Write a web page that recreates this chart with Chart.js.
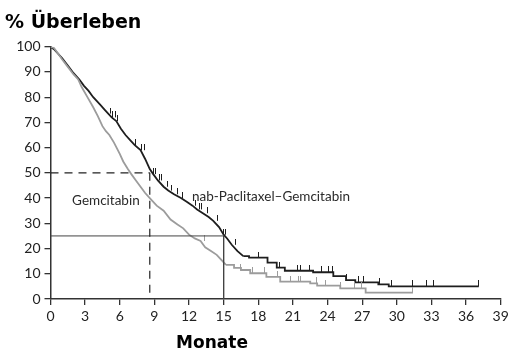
<!DOCTYPE html>
<html>
<head>
<meta charset="utf-8">
<script src="https://cdn.jsdelivr.net/npm/chart.js@4/dist/chart.umd.min.js"></script>
<style>
html,body{margin:0;padding:0;background:#fff;}
#wrap{width:517px;height:358px;position:relative;}
</style>
</head>
<body>
<div id="wrap"><canvas id="c" width="517" height="358"></canvas></div>
<script>
// ---- Data ----
const xTicks = [0,3,6,9,12,15,18,21,24,27,30,33,36,39];
const yTicks = [0,10,20,30,40,50,60,70,80,90,100];

// nab-Paclitaxel–Gemcitabin (months, % survival)
const nabMonths = [0,0.3,0.6,1.0,1.5,2.0,2.5,2.9,3.3,3.7,4.0,4.3,4.7,5.0,5.3,5.7,6.1,6.5,6.9,7.3,7.8,8.2,8.6,8.9,9.3,9.8,10.2,10.7,11.3,11.8,12.3,12.7,13.2,13.7,14.1,14.6,15.0,15.3,15.7,16.2,16.7,17.2,18.5,18.8,19.6,20.3,22.75,24.5,25.6,26.4,28.4,29.3,37.1];
const nabSurv   = [100,99,97.5,95.5,92.5,89.5,87,84.5,82.5,80,78.5,77,75,73.5,72,70.5,67.5,65,63,61,59,55.5,51.5,49.5,47,44.5,43,41.5,40,38.5,37,35.5,34,32.5,31,28.5,25.5,24,21.5,19,17,16.4,16.4,14.4,12.4,11.2,10.6,9.1,7.5,6.6,5.8,5.0,5.0];
const nabCensored = [5.2,5.4,5.6,5.8,7.4,7.9,8.1,8.9,9.1,9.4,9.6,10.1,10.5,11.0,11.4,12.6,12.9,13.1,13.6,14.5,15.0,15.2,16.0,18.0,19.8,21.4,21.7,22.4,23.5,24.1,24.4,25.6,26.7,27.1,28.5,29.5,31.4,32.6,33.2,37.1];

// Gemcitabin
const gemMonths = [0,0.3,0.7,1.0,1.5,2.0,2.4,2.7,3.2,3.7,4.1,4.5,4.8,5.1,5.5,6.0,6.3,6.7,7.0,7.4,7.8,8.2,8.7,9.2,9.8,10.4,11.0,11.5,12.0,12.5,13.0,13.4,13.9,14.4,14.8,15.2,15.9,16.5,17.3,18.7,19.9,22.5,23.1,25.1,27.3,31.4];
const gemSurv   = [100,99.5,97,95,92,89,87,84,80,76,72.5,68.5,66.5,65,62,57.5,54.5,51.5,49.5,47,44.5,42,39.5,37,35,31.5,29.5,28,25.5,24,23,20.5,19,17.5,15.5,13.5,12.3,11.5,10.2,8.8,6.9,6.2,5.3,4.2,2.5,2.5];
const gemCensored = [13.3,16.5,17.5,18.5,19.7,20.8,21.5,21.7,23.0,23.8,25.1,26.3,26.9,31.4];

// where the many small early steps blur into a line (style: draw unstepped before this month)
const nabSmoothUntil = 16.7;
const gemSmoothUntil = 15.2;

// Reference lines: median (50 %) and 15-month survival
const medianMonth = 8.6;
const medianLevel = 50;
const landmarkMonth = 15;
const landmarkLevel = 25;

// Texts
const titleText = '% Überleben';
const xTitleText = 'Monate';
const curveLabels = [
  {text:'Gemcitabin', x:4.8, y:39},
  {text:'nab-Paclitaxel–Gemcitabin', x:19.1, y:40.5}
];

// ---- build ----
function pts(xs, ys){ return xs.map((x,i)=>({x:x,y:ys[i]})); }
function head(xs, ys, lim){ return pts(xs,ys).filter(p=>p.x<=lim); }
function tail(xs, ys, lim){ return pts(xs,ys).filter(p=>p.x>=lim); }
function survAt(xs, ys, t){
  let v = ys[0];
  for(let i=0;i<xs.length;i++){ if(xs[i] <= t) v = ys[i]; else break; }
  return v;
}
function censorPts(cs, xs, ys){ return cs.map(t=>({x:t,y:survAt(xs,ys,t)})); }

function tickImg(color){
  const c = document.createElement('canvas');
  c.width = 1; c.height = 12;
  const g = c.getContext('2d');
  g.fillStyle = color;
  g.fillRect(0,0,1,6);
  return c;
}
const blackCol = '#1e1e1e';
const grayCol = '#9c9c9c';

const textPlugin = {
  id:'texts',
  afterDraw(chart){
    const ctx = chart.ctx;
    const xs = chart.scales.x, ys = chart.scales.y;
    ctx.save();
    ctx.fillStyle = '#000';
    ctx.font = 'bold 19px "DejaVu Sans"';
    ctx.textAlign = 'left';
    ctx.textBaseline = 'alphabetic';
    ctx.fillText(titleText, 5, 28);
    ctx.font = 'bold 17px "DejaVu Sans"';
    ctx.textAlign = 'center';
    ctx.fillText(xTitleText, 212, 348);
    ctx.font = '13.5px Lato';
    ctx.fillStyle = '#2a2a2a';
    ctx.textBaseline = 'middle';
    curveLabels.forEach(l=>{
      ctx.fillText(l.text, xs.getPixelForValue(l.x), ys.getPixelForValue(l.y));
    });
    ctx.restore();
  }
};

const lineBase = {showLine:true, borderWidth:1.8, pointRadius:0};
const chart = new Chart(document.getElementById('c'), {
  type:'scatter',
  data:{
    datasets:[
      {data:[{x:0,y:medianLevel},{x:medianMonth,y:medianLevel}], showLine:true, borderColor:'#222', borderWidth:1.2, borderDash:[8,6], pointRadius:0},
      {data:[{x:medianMonth,y:medianLevel},{x:medianMonth,y:0}], showLine:true, borderColor:'#222', borderWidth:1.2, borderDash:[8,6], pointRadius:0},
      {data:[{x:0,y:landmarkLevel},{x:landmarkMonth,y:landmarkLevel}], showLine:true, borderColor:'#444', borderWidth:1, pointRadius:0},
      {data:[{x:landmarkMonth,y:landmarkLevel},{x:landmarkMonth,y:0}], showLine:true, borderColor:'#444', borderWidth:1, pointRadius:0},
      Object.assign({data:head(gemMonths,gemSurv,gemSmoothUntil), borderColor:grayCol}, lineBase),
      Object.assign({data:tail(gemMonths,gemSurv,gemSmoothUntil), stepped:'before', borderColor:grayCol}, lineBase),
      {data:censorPts(gemCensored,gemMonths,gemSurv), showLine:false, pointStyle:tickImg(grayCol), pointRadius:3},
      Object.assign({data:head(nabMonths,nabSurv,nabSmoothUntil), borderColor:blackCol}, lineBase),
      Object.assign({data:tail(nabMonths,nabSurv,nabSmoothUntil), stepped:'before', borderColor:blackCol}, lineBase),
      {data:censorPts(nabCensored,nabMonths,nabSurv), showLine:false, pointStyle:tickImg(blackCol), pointRadius:3}
    ]
  },
  options:{
    responsive:false,
    animation:false,
    events:[],
    layout:{padding:{top:46.7,right:16.3,left:0,bottom:29}},
    plugins:{legend:{display:false},tooltip:{enabled:false},title:{display:false}},
    scales:{
      x:{
        type:'linear', min:0, max:39,
        afterBuildTicks(s){ s.ticks = xTicks.map(v=>({value:v})); },
        afterFit(s){ s.height = 30; },
        border:{display:true,color:'#333',width:1.5},
        grid:{drawOnChartArea:false,drawTicks:true,tickLength:6,color:'#333',lineWidth:1.3},
        ticks:{color:'#222',font:{family:'Lato',size:14},padding:3,maxRotation:0,autoSkip:false}
      },
      y:{
        type:'linear', min:0, max:100,
        afterBuildTicks(s){ s.ticks = yTicks.map(v=>({value:v})); },
        afterFit(s){ s.width = 50.5; },
        border:{display:true,color:'#333',width:1.5},
        grid:{drawOnChartArea:false,drawTicks:true,tickLength:6,color:'#333',lineWidth:1.3},
        ticks:{color:'#222',font:{family:'Lato',size:14},padding:4,autoSkip:false}
      }
    }
  },
  plugins:[textPlugin]
});
</script>
</body>
</html>
